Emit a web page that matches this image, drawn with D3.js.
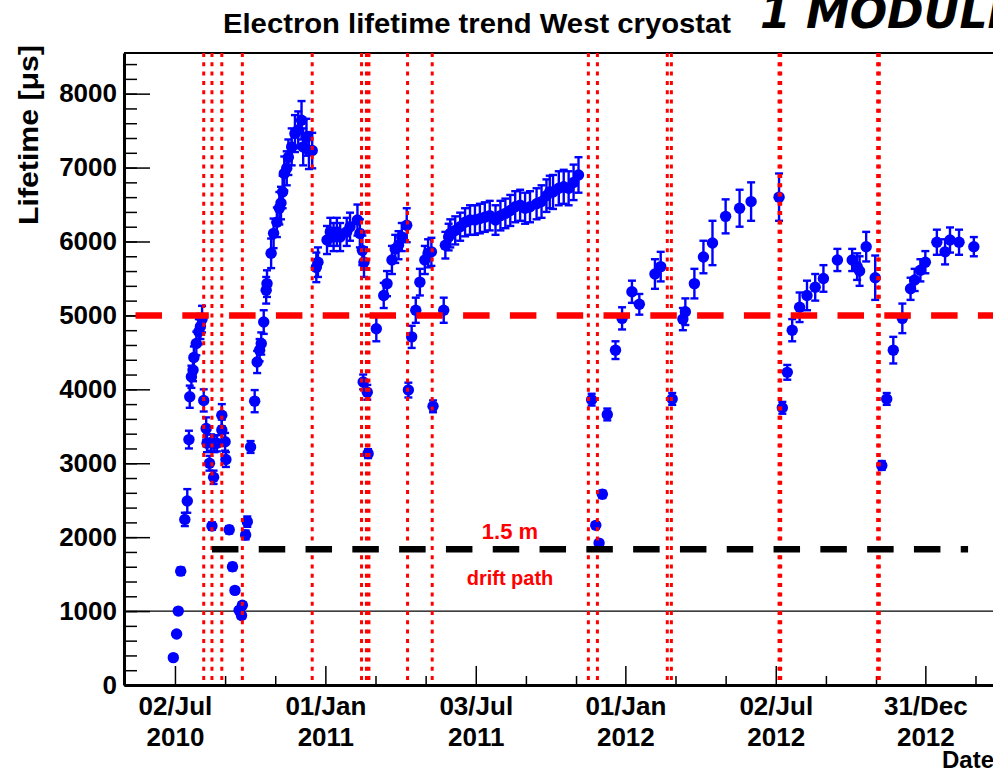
<!DOCTYPE html>
<html>
<head>
<meta charset="utf-8">
<script src="https://cdn.jsdelivr.net/npm/d3@7"></script>
<style>
  body { margin: 0; background: #fff; }
  text { font-family: "Liberation Sans", Arial, sans-serif; font-weight: bold; }
</style>
</head>
<body>
<svg id="chart"></svg>
<script>
// day 0 of the measurement list
const startDate = "2010-07-02";

// [days since start, lifetime (us), error (us)]
const measurements = [
  [-2, 370, 20], [2, 690, 30], [4, 1000, 40], [7, 1540, 50], [12, 2240, 90], [15, 2490, 160],
  [17, 3320, 120], [18, 3900, 150], [20, 4170, 150], [22, 4260, 150], [23, 4430, 150],
  [26, 4620, 160], [29, 4780, 170], [31, 4850, 170], [33, 4950, 180],
  [35, 3850, 150], [38, 3470, 150], [39, 3270, 120], [42, 3000, 100], [44, 3280, 110],
  [45, 2150, 50], [47, 2810, 90], [48, 3260, 110], [51, 3270, 110], [57, 3650, 150],
  [57, 3450, 140], [61, 3290, 120], [62, 3050, 100], [66, 2100, 50], [70, 1600, 50],
  [73, 1280, 40], [78, 1010, 40], [81, 940, 40], [82, 1080, 40], [86, 2030, 60], [88, 2210, 70],
  [92, 3220, 80], [97, 3840, 150], [100, 4370, 150], [103, 4530, 150], [105, 4620, 150],
  [108, 4910, 160], [111, 5340, 180], [112, 5430, 180], [117, 5840, 200], [120, 6110, 200],
  [124, 6260, 200], [127, 6450, 220], [129, 6520, 220], [131, 6670, 220], [133, 6920, 230],
  [136, 6990, 230], [138, 7140, 240], [142, 7280, 250], [146, 7460, 250], [150, 7510, 250],
  [154, 7640, 260], [156, 7280, 250], [160, 7410, 250], [163, 7230, 250], [167, 7230, 240],
  [172, 5650, 200], [174, 5720, 200], [185, 6020, 190], [189, 6130, 190], [193, 6060, 190],
  [197, 6130, 190], [201, 6060, 190], [209, 6130, 190], [213, 6200, 190], [222, 6290, 210],
  [225, 6110, 190], [228, 5880, 200], [230, 5720, 200],
  [229, 4100, 100], [234, 3960, 100], [235, 3130, 60],
  [245, 4820, 170], [254, 5270, 170], [258, 5430, 170], [264, 5750, 190], [268, 5900, 190],
  [272, 5950, 190], [276, 6060, 190], [282, 6220, 230],
  [284, 3990, 100], [288, 4710, 150],
  [293, 5070, 170], [298, 5450, 180], [304, 5750, 190], [308, 5840, 190], [312, 5860, 190],
  [314, 3770, 80],
  [327, 5070, 170], [329, 5950, 180], [333, 6060, 180], [335, 6110, 190], [341, 6150, 190],
  [347, 6200, 190], [353, 6260, 190], [359, 6290, 200], [365, 6290, 200], [371, 6310, 200],
  [377, 6330, 200], [383, 6350, 200], [390, 6290, 200], [396, 6350, 200], [402, 6380, 200],
  [408, 6420, 210], [414, 6470, 210], [420, 6490, 210], [426, 6450, 210], [432, 6470, 210],
  [440, 6510, 210], [446, 6540, 220], [452, 6620, 220], [456, 6670, 220], [460, 6670, 230],
  [467, 6720, 230], [473, 6740, 230], [479, 6720, 230], [485, 6800, 240], [491, 6900, 240],
  [507, 3860, 80], [512, 2160, 40], [516, 1920, 40], [520, 2580, 50], [526, 3660, 80],
  [536, 4530, 120], [544, 4960, 150], [556, 5320, 150], [565, 5150, 140], [584, 5560, 200],
  [591, 5660, 200],
  [605, 3870, 80],
  [618, 4950, 150], [621, 5050, 180], [632, 5430, 200], [643, 5790, 220], [654, 5980, 300],
  [670, 6340, 230], [687, 6450, 250], [701, 6540, 260], [735, 6600, 320],
  [739, 3750, 80], [745, 4230, 100], [751, 4800, 150], [760, 5110, 200], [769, 5270, 200],
  [779, 5380, 180], [789, 5500, 180], [806, 5750, 150], [824, 5750, 150], [830, 5660, 180],
  [833, 5600, 200], [841, 5930, 200], [852, 5510, 300],
  [860, 2970, 60], [866, 3870, 80],
  [874, 4530, 180], [885, 4960, 200], [895, 5360, 150], [900, 5480, 150], [907, 5610, 150],
  [913, 5720, 150], [927, 5990, 170], [937, 5860, 170], [943, 6020, 170], [954, 5990, 170],
  [972, 5930, 130]
];

// days of the dotted red markers (filter regenerations / stops)
const markerDays = [35, 45, 57, 82, 167, 227, 233, 236, 283, 313, 503, 514, 599, 604, 735, 737, 855, 857];

// horizontal reference lines: [value, from day, to day]
const requirementLine = [5000, -48, 1016];
const driftLine = [1835, 45, 965];

const xTickDates = ["2010-07-02", "2011-01-01", "2011-07-03", "2012-01-01", "2012-07-02", "2012-12-31"];
const yTickValues = [0, 1000, 2000, 3000, 4000, 5000, 6000, 7000, 8000];

const width = 993, height = 773;
const plotLeft = 124, plotRight = 1010, plotTop = 53, plotBottom = 685;

const t0 = d3.utcParse("%Y-%m-%d")(startDate);
const dayToDate = d => new Date(+t0 + d * 864e5);

const svg = d3.select("#chart").attr("width", width).attr("height", height);

const x = d3.scaleUtc()
  .domain([dayToDate(-62), dayToDate(1016)])
  .range([plotLeft, plotRight]);

const y = d3.scaleLinear()
  .domain([0, 8550])
  .range([plotBottom, plotTop]);

svg.append("defs").append("clipPath").attr("id", "plotclip")
  .append("rect").attr("x", plotLeft).attr("y", plotTop - 8)
  .attr("width", plotRight - plotLeft).attr("height", plotBottom - plotTop + 8);

// title
svg.append("text").attr("x", 477).attr("y", 33).attr("text-anchor", "middle")
  .style("font-size", "27px").attr("textLength", 508).attr("lengthAdjust", "spacingAndGlyphs")
  .text("Electron lifetime trend West cryostat");

svg.append("text").attr("x", 760).attr("y", 28)
  .style("font-family", "DejaVu Sans").style("font-style", "italic").style("font-size", "44px")
  .text("1 MODULE");

// frame top
svg.append("line").attr("x1", plotLeft).attr("x2", plotRight).attr("y1", plotTop).attr("y2", plotTop)
  .attr("stroke", "black").attr("stroke-width", 2);

// y axis: major + minor ticks inside the frame
const yMinor = d3.range(0, 8550, 200);
svg.append("g").attr("transform", `translate(${plotLeft},0)`)
  .call(d3.axisLeft(y).tickValues(yMinor).tickSize(-13).tickSizeOuter(0).tickFormat(""))
  .call(g => g.select(".domain").remove())
  .selectAll("line").attr("stroke-width", 1.5);

const yAxis = svg.append("g").attr("transform", `translate(${plotLeft},0)`)
  .call(d3.axisLeft(y).tickValues(yTickValues).tickSize(-26).tickSizeOuter(0).tickPadding(7)
    .tickFormat(d3.format("d")));
yAxis.select(".domain").attr("stroke-width", 3);
yAxis.selectAll(".tick line").attr("stroke-width", 1.5);
yAxis.selectAll("text").style("font-size", "26px").style("font-family", "Liberation Sans, Arial")
  .style("font-weight", "bold").attr("fill", "black");

svg.append("text").attr("transform", "translate(38,45) rotate(-90)").attr("text-anchor", "end")
  .style("font-size", "27px").attr("textLength", 180).attr("lengthAdjust", "spacingAndGlyphs")
  .text("Lifetime [\u03bcs]");

// x axis
const majorDates = xTickDates.map(d3.utcParse("%Y-%m-%d"));
const minorDates = [];
majorDates.forEach(d => {
  minorDates.push(d3.utcDay.offset(d, 61), d3.utcDay.offset(d, 122));
});
svg.append("g").attr("transform", `translate(0,${plotBottom})`)
  .call(d3.axisBottom(x).tickValues(minorDates).tickSize(-9).tickSizeOuter(0).tickFormat(""))
  .call(g => g.select(".domain").remove())
  .selectAll("line").attr("stroke-width", 1.5);

const xAxis = svg.append("g").attr("transform", `translate(0,${plotBottom})`)
  .call(d3.axisBottom(x).tickValues(majorDates).tickSize(-19).tickSizeOuter(0).tickFormat(""));
xAxis.select(".domain").attr("stroke-width", 3);
xAxis.selectAll(".tick line").attr("stroke-width", 1.5);
xAxis.selectAll(".tick").append("text")
  .attr("fill", "black").attr("text-anchor", "middle")
  .style("font-size", "26px")
  .each(function (d) {
    const t = d3.select(this);
    t.append("tspan").attr("x", 0).attr("y", 30).text(d3.utcFormat("%d/%b")(d));
    t.append("tspan").attr("x", 0).attr("y", 61).text(d3.utcFormat("%Y")(d));
  });

svg.append("text").attr("x", 994).attr("y", 768).attr("text-anchor", "end")
  .style("font-size", "24px").text("Date");

const plot = svg.append("g").attr("clip-path", "url(#plotclip)");

// 1000 us guide line
plot.append("line").attr("x1", plotLeft).attr("x2", plotRight)
  .attr("y1", y(1000)).attr("y2", y(1000)).attr("stroke", "black").attr("stroke-width", 1.2);

// error bars
const pts = plot.append("g").selectAll("g").data(measurements).join("g")
  .attr("transform", d => `translate(${x(dayToDate(d[0]))},0)`);
pts.append("line").attr("y1", d => y(d[1] - d[2])).attr("y2", d => y(d[1] + d[2]))
  .attr("stroke", "#0000ff").attr("stroke-width", 2.4);
pts.append("line").attr("x1", -4).attr("x2", 4).attr("y1", d => y(d[1] + d[2])).attr("y2", d => y(d[1] + d[2]))
  .attr("stroke", "#0000ff").attr("stroke-width", 2.4);
pts.append("line").attr("x1", -4).attr("x2", 4).attr("y1", d => y(d[1] - d[2])).attr("y2", d => y(d[1] - d[2]))
  .attr("stroke", "#0000ff").attr("stroke-width", 2.4);
pts.append("circle").attr("cy", d => y(d[1])).attr("r", 5.7).attr("fill", "#0000ff");

// dotted red markers
plot.selectAll(".marker").data(markerDays).join("line")
  .attr("class", "marker")
  .attr("x1", d => x(dayToDate(d))).attr("x2", d => x(dayToDate(d)))
  .attr("y1", plotTop).attr("y2", plotBottom)
  .attr("stroke", "#ff0000").attr("stroke-width", 3).attr("stroke-dasharray", "4,5.3");

// dashed reference lines
plot.append("line")
  .attr("x1", x(dayToDate(requirementLine[1]))).attr("x2", x(dayToDate(requirementLine[2])))
  .attr("y1", y(requirementLine[0])).attr("y2", y(requirementLine[0]))
  .attr("stroke", "#ff0000").attr("stroke-width", 6.5).attr("stroke-dasharray", "26.5,20.3");
plot.append("line")
  .attr("x1", x(dayToDate(driftLine[1]))).attr("x2", x(dayToDate(driftLine[2])))
  .attr("y1", y(driftLine[0])).attr("y2", y(driftLine[0]))
  .attr("stroke", "black").attr("stroke-width", 6.5).attr("stroke-dasharray", "26.5,20.3");

svg.append("text").attr("x", 510).attr("y", 539).attr("text-anchor", "middle")
  .attr("fill", "#ff0000").style("font-size", "22px").text("1.5 m");
svg.append("text").attr("x", 510).attr("y", 585).attr("text-anchor", "middle")
  .attr("fill", "#ff0000").style("font-size", "20px").text("drift path");
</script>
</body>
</html>
